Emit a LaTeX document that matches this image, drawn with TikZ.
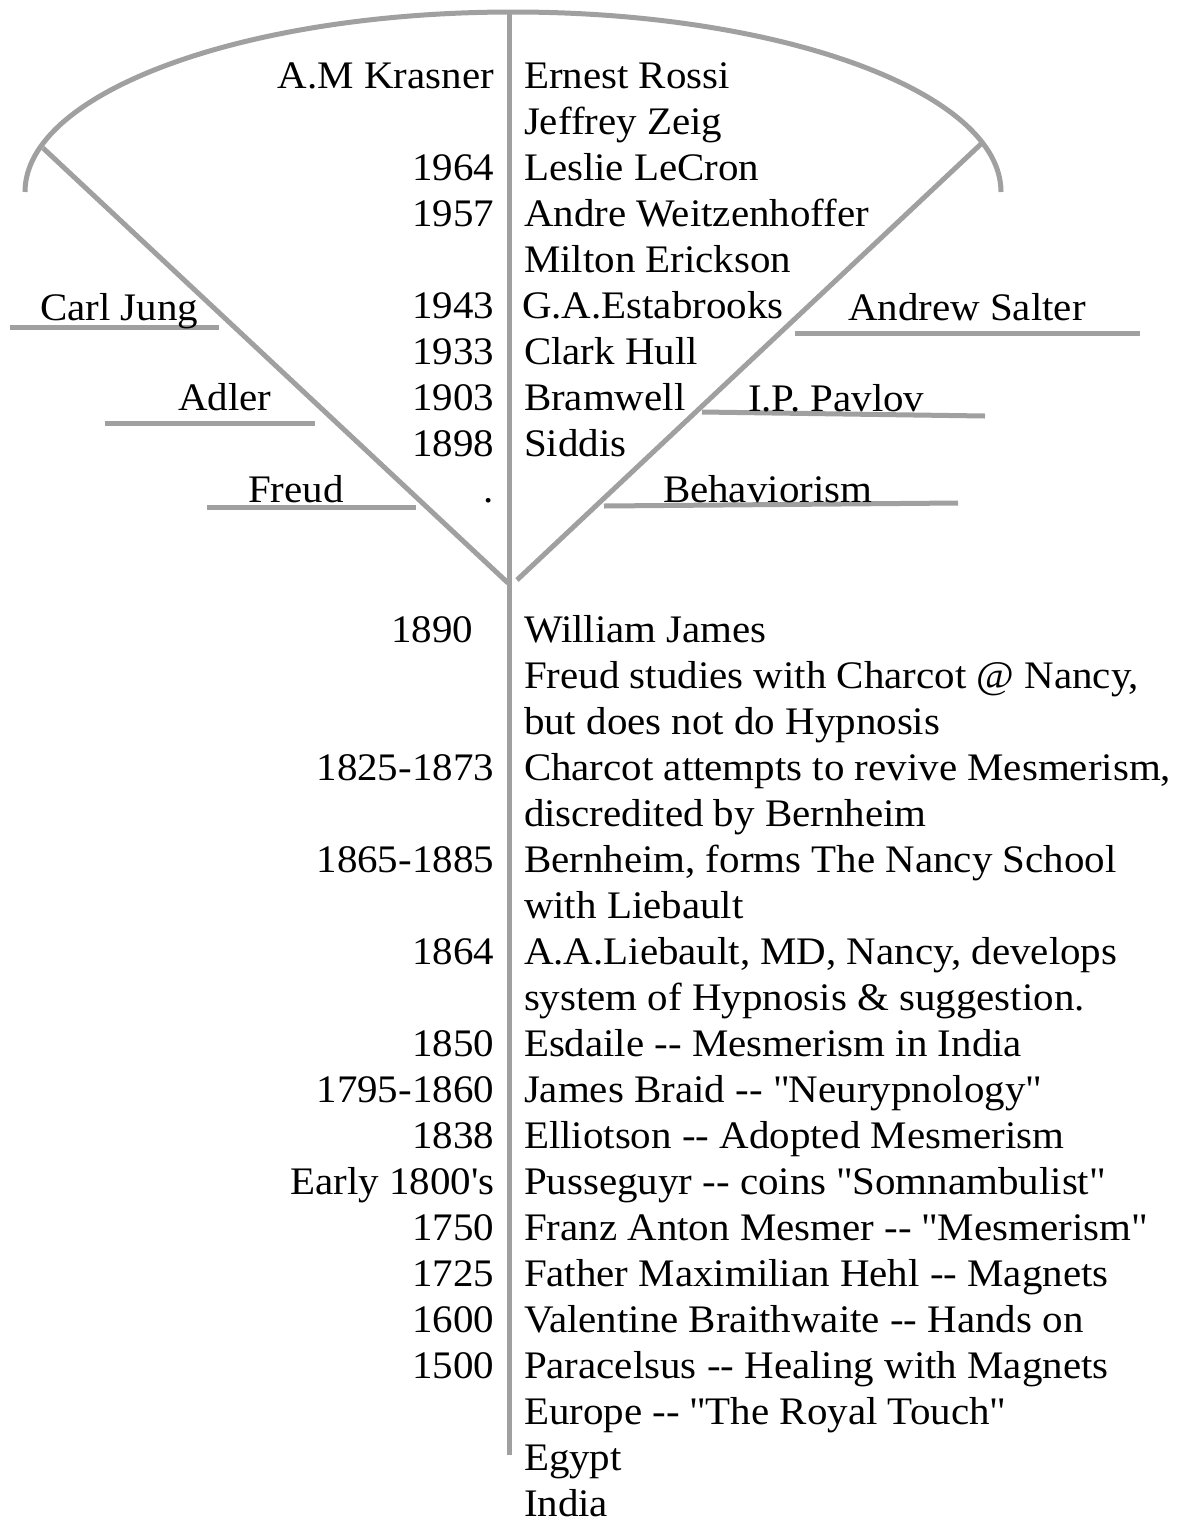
\documentclass[tikz,border=0pt]{standalone}
\usepackage{fontspec}
\setmainfont[FakeStretch=1.05]{Liberation Serif}
\definecolor{linegray}{RGB}{160,160,160}
\newcommand{\dd}{-{}-}
\newcommand{\qq}{\XeTeXglyph\XeTeXcharglyph"22\relax}
\newcommand{\ap}{\XeTeXglyph\XeTeXcharglyph"27\relax}
\begin{document}
\begin{tikzpicture}[x=1pt,y=-1pt,
  every node/.style={inner sep=0pt, outer sep=0pt, font=\fontsize{39}{46}\selectfont},
  ln/.style={draw=linegray, line width=5pt},
  lt/.style={anchor=base east},
  rt/.style={anchor=base west}]
\useasboundingbox (0,0) rectangle (1189,1524);
% ---- shapes
\coordinate (arcL) at (25,192);
\coordinate (arcR) at (1001,192);
\draw[ln] (arcL) arc[start angle=180, end angle=360, x radius=488, y radius=180];
\coordinate (vtop) at (509,10);
\coordinate (vbot) at (509,1455);
\draw[ln] (vtop) -- (vbot);
\coordinate (dlA) at (43,148);
\coordinate (dlB) at (508,583);
\draw[ln] (dlA) -- (dlB);
\coordinate (drA) at (981,144);
\coordinate (drB) at (517,580);
\draw[ln] (drA) -- (drB);
% side branches
\coordinate (jA) at (10,327);  \coordinate (jB) at (219,327);
\coordinate (aA) at (105,423); \coordinate (aB) at (315,423);
\coordinate (fA) at (207,507); \coordinate (fB) at (416,507);
\coordinate (sA) at (795,333); \coordinate (sB) at (1140,333);
\coordinate (pA) at (702,412); \coordinate (pB) at (985,416);
\coordinate (bA) at (604,506); \coordinate (bB) at (958,503);
\draw[ln] (jA) -- (jB);
\draw[ln] (aA) -- (aB);
\draw[ln] (fA) -- (fB);
\draw[ln] (sA) -- (sB);
\draw[ln] (pA) -- (pB);
\draw[ln] (bA) -- (bB);
\node[rt] (jung) at (40,320) {Carl Jung};
\node[rt] (adler) at (178,410) {Adler};
\node[rt] (freud) at (248,502) {Freud};
\node[rt] (salter) at (848,320) {Andrew Salter};
\node[rt] (pavlov) at (748,411) {I.P. Pavlov};
\node[rt] (behav) at (663,502) {Behaviorism};
% ---- top section
\node[lt] (l0) at (494,88) {A.M Krasner};
\node[rt] (r0) at (524,88) {Ernest Rossi};
\node[rt] (r1) at (524,134) {Jeffrey Zeig};
\node[lt] (l2) at (494,180) {1964};
\node[rt] (r2) at (524,180) {Leslie LeCron};
\node[lt] (l3) at (494,226) {1957};
\node[rt] (r3) at (524,226) {Andre Weitzenhoffer};
\node[rt] (r4) at (524,272) {Milton Erickson};
\node[lt] (l5) at (494,318) {1943};
\node[rt] (r5) at (522,318) {G.A.Estabrooks};
\node[lt] (l6) at (494,364) {1933};
\node[rt] (r6) at (524,364) {Clark Hull};
\node[lt] (l7) at (494,410) {1903};
\node[rt] (r7) at (524,410) {Bramwell};
\node[lt] (l8) at (494,456) {1898};
\node[rt] (r8) at (524,456) {Siddis};
\node[lt] (l9) at (494,502) {.};
% ---- lower section
\node[lt] (m0) at (473,642) {1890};
\node[rt] (n0) at (524,642) {William James};
\node[rt] (n1) at (524,688) {Freud studies with Charcot @ Nancy,};
\node[rt] (n2) at (524,734) {but does not do Hypnosis};
\node[lt] (m3) at (494,780) {1825-1873};
\node[rt] (n3) at (524,780) {Charcot attempts to revive Mesmerism,};
\node[rt] (n4) at (524,826) {discredited by Bernheim};
\node[lt] (m5) at (494,872) {1865-1885};
\node[rt] (n5) at (524,872) {Bernheim, forms The Nancy School};
\node[rt] (n6) at (524,918) {with Liebault};
\node[lt] (m7) at (494,964) {1864};
\node[rt] (n7) at (524,964) {A.A.Liebault, MD, Nancy, develops};
\node[rt] (n8) at (524,1010) {system of Hypnosis \& suggestion.};
\node[lt] (m9) at (494,1056) {1850};
\node[rt] (n9) at (524,1056) {Esdaile \dd{} Mesmerism in India};
\node[lt] (m10) at (494,1102) {1795-1860};
\node[rt] (n10) at (524,1102) {James Braid \dd{} \qq Neurypnology\qq};
\node[lt] (m11) at (494,1148) {1838};
\node[rt] (n11) at (524,1148) {Elliotson \dd{} Adopted Mesmerism};
\node[lt] (m12) at (494,1194) {Early 1800\ap s};
\node[rt] (n12) at (524,1194) {Pusseguyr \dd{} coins \qq Somnambulist\qq};
\node[lt] (m13) at (494,1240) {1750};
\node[rt] (n13) at (524,1240) {Franz Anton Mesmer \dd{} \qq Mesmerism\qq};
\node[lt] (m14) at (494,1286) {1725};
\node[rt] (n14) at (524,1286) {Father Maximilian Hehl \dd{} Magnets};
\node[lt] (m15) at (494,1332) {1600};
\node[rt] (n15) at (524,1332) {Valentine Braithwaite \dd{} Hands on};
\node[lt] (m16) at (494,1378) {1500};
\node[rt] (n16) at (524,1378) {Paracelsus \dd{} Healing with Magnets};
\node[rt] (n17) at (524,1424) {Europe \dd{} \qq The Royal Touch\qq};
\node[rt] (n18) at (524,1470) {Egypt};
\node[rt] (n19) at (524,1516) {India};
\end{tikzpicture}
\end{document}
